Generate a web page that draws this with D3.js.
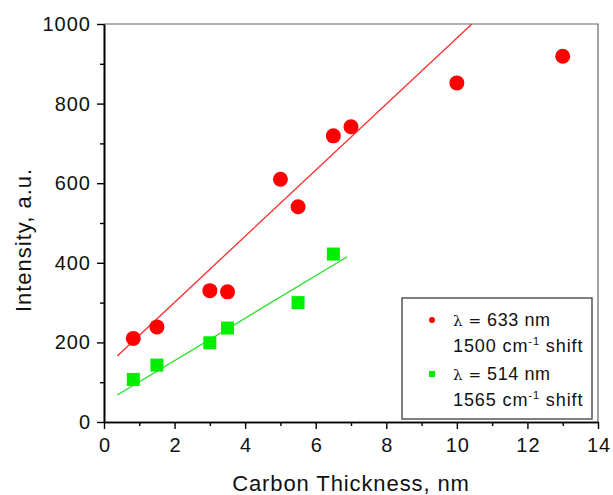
<!DOCTYPE html>
<html><head><meta charset="utf-8">
<script src="https://cdn.jsdelivr.net/npm/d3@7"></script>
<style>body{margin:0;background:#fff}svg{display:block}text{font-family:Arial,"Liberation Sans",sans-serif;fill:#111}</style>
</head><body><div id="c"></div>
<script>
// Data
const redX = [0.83, 1.5, 3.0, 3.5, 5.0, 5.5, 6.5, 7.0, 10.0, 13.0];
const redY = [210, 239, 330, 327, 610, 541, 719, 742, 852, 919];
const greenX = [0.83, 1.5, 3.0, 3.5, 5.5, 6.5];
const greenY = [107, 143, 199, 236, 300, 422];
// Linear fits: [slope, intercept, xStart, xEnd]
const redFit = [83.0, 134.7, 0.377, 11.0];
const greenFit = [53.3, 47.7, 0.377, 6.894];
const xTicks = [0, 2, 4, 6, 8, 10, 12, 14];
const yTicks = [0, 200, 400, 600, 800, 1000];
const xMinor = [1, 3, 5, 7, 9, 11, 13];
const yMinor = [100, 300, 500, 700, 900];
const legendLines = ["633 nm", "1500", "514 nm", "1565"];

const W = 613, H = 495;
const svg = d3.select("#c").append("svg").attr("width", W).attr("height", H);
const x = d3.scaleLinear().domain([0, 14]).range([104, 598]);
const y = d3.scaleLinear().domain([0, 1000]).range([422, 24]);

svg.append("clipPath").attr("id", "clip").append("rect")
  .attr("x", x(0)).attr("y", y(1000)).attr("width", x(14) - x(0)).attr("height", y(0) - y(1000));

svg.append("path").attr("d", `M${x(0)},${y(1000)}H${x(14)}V${y(0)}`)
  .attr("fill", "none").attr("stroke", "#666").attr("stroke-width", 1.2);

const fmt = d3.format("d");
const xAxis = svg.append("g").attr("transform", `translate(0,${y(0)})`)
  .call(d3.axisBottom(x).tickValues(xTicks).tickFormat(fmt).tickSize(7).tickPadding(9).tickSizeOuter(0));
const xMin = svg.append("g").attr("transform", `translate(0,${y(0)})`)
  .call(d3.axisBottom(x).tickValues(xMinor).tickSize(4).tickFormat("").tickSizeOuter(0));
const yAxis = svg.append("g").attr("transform", `translate(${x(0)},0)`)
  .call(d3.axisLeft(y).tickValues(yTicks).tickFormat(fmt).tickSize(7).tickPadding(5).tickSizeOuter(0));
const yMin = svg.append("g").attr("transform", `translate(${x(0)},0)`)
  .call(d3.axisLeft(y).tickValues(yMinor).tickSize(4).tickFormat("").tickSizeOuter(0));
[xAxis, xMin, yAxis, yMin].forEach(g => {
  g.select(".domain").attr("stroke", "#000").attr("stroke-width", 1.6);
  g.selectAll(".tick line").attr("stroke", "#000").attr("stroke-width", 1.4);
  g.selectAll("text").attr("font-size", "20px").attr("font-family", "Arial, Liberation Sans, sans-serif")
    .attr("fill", "#111").attr("letter-spacing", "1px");
});
yAxis.selectAll("text").attr("x", -13);
xAxis.selectAll("text").attr("dx", "0.5px");

const plot = svg.append("g").attr("clip-path", "url(#clip)");
function fitLine(f, color) {
  const pts = [f[2], f[3]].map(v => [x(v), y(f[0] * v + f[1])]);
  plot.append("path").attr("d", d3.line()(pts)).attr("stroke", color).attr("stroke-width", 1.3).attr("fill", "none");
}
fitLine(redFit, "#ff2a2a");
fitLine(greenFit, "#22e022");

svg.append("g").selectAll("circle").data(redX).join("circle")
  .attr("cx", d => x(d)).attr("cy", (d, i) => y(redY[i])).attr("r", 7.5).attr("fill", "#ff0000");
const sq = 13;
svg.append("g").selectAll("rect").data(greenX).join("rect")
  .attr("x", d => x(d) - sq / 2).attr("y", (d, i) => y(greenY[i]) - sq / 2)
  .attr("width", sq).attr("height", sq).attr("fill", "#00ee00");

svg.append("text").attr("x", 351).attr("y", 491).attr("text-anchor", "middle")
  .attr("font-size", "22px").attr("letter-spacing", "0.9px").text("Carbon Thickness, nm");
svg.append("text").attr("transform", "translate(31,240) rotate(-90)").attr("text-anchor", "middle")
  .attr("font-size", "22px").attr("letter-spacing", "1px").text("Intensity, a.u.");

const lg = svg.append("g");
lg.append("rect").attr("x", 402).attr("y", 298).attr("width", 190).attr("height", 121)
  .attr("fill", "#fff").attr("stroke", "#555").attr("stroke-width", 1.5);
lg.append("circle").attr("cx", 432).attr("cy", 320).attr("r", 3).attr("fill", "#ff0000");
lg.append("rect").attr("x", 429).attr("y", 371).attr("width", 6).attr("height", 6).attr("fill", "#00ee00");
function lambdaLine(yb, val) {
  const t = lg.append("text").attr("x", 453).attr("y", yb).attr("font-size", "18px").attr("letter-spacing", "0.6px");
  t.append("tspan").attr("font-family", "DejaVu Serif, serif").attr("font-size", "15px").text("λ");
  t.append("tspan").attr("font-family", "DejaVu Serif, serif").attr("font-size", "15px").text(" = ");
  t.append("tspan").text(val);
}
function shiftLine(yb, val) {
  const t = lg.append("text").attr("x", 453).attr("y", yb).attr("font-size", "18px").attr("letter-spacing", "0.9px");
  t.append("tspan").text(val + " cm");
  t.append("tspan").attr("font-size", "11px").attr("dy", -7).text("-1");
  t.append("tspan").attr("dy", 7).text(" shift");
}
lambdaLine(326, legendLines[0]);
shiftLine(352, legendLines[1]);
lambdaLine(380, legendLines[2]);
shiftLine(406, legendLines[3]);
</script></body></html>
